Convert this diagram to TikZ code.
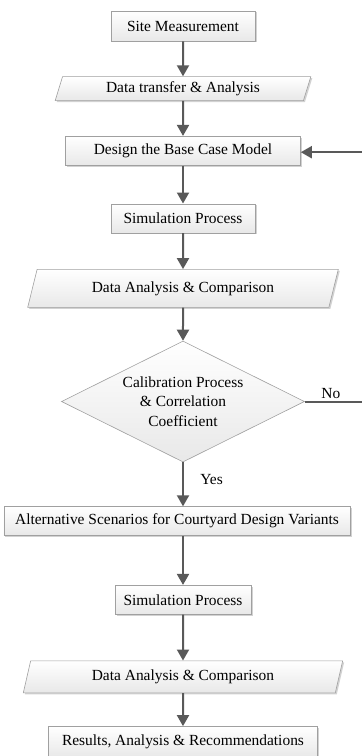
\documentclass[tikz,border=0pt]{standalone}
\usepackage{fontspec}
\setmainfont{Liberation Serif}
\usepackage{tikz}
\usetikzlibrary{shapes,arrows.meta,positioning,shadows}

\definecolor{linegray}{HTML}{595959}
\definecolor{edgegray}{HTML}{A0A0A0}

\begin{document}
\begin{tikzpicture}[x=1bp, y=-1bp, node distance=35bp,
  every node/.style={font=\fontsize{15.5}{19.5}\selectfont, align=center},
  procbox/.style={draw=edgegray, line width=0.6bp, rectangle, top color=white, bottom color=black!9,
    drop shadow={shadow xshift=1.5bp, shadow yshift=-1.5bp, fill=black!35}, minimum height=29bp, inner sep=0pt},
  iobox/.style={draw=edgegray, line width=0.6bp, trapezium, trapezium stretches=true, top color=white, bottom color=black!9,
    drop shadow={shadow xshift=1.5bp, shadow yshift=-1.5bp, fill=black!35}, inner sep=0pt},
  decbox/.style={draw=edgegray, line width=0.6bp, diamond, aspect=2, inner sep=0pt, top color=white, bottom color=black!9},
  flow/.style={-{Triangle[length=11bp,width=12bp]}, line width=2bp, draw=linegray}]
\useasboundingbox (0,0) rectangle (361,756);
% Site measurement
\node[procbox, minimum width=144bp, minimum height=30bp] (site) at (183,26) {Site Measurement};
% Data transfer
\node[iobox, minimum width=256bp, minimum height=24bp, trapezium left angle=71.6, trapezium right angle=108.4, below=35bp of site] (transfer) {Data transfer \& Analysis};
% Base case model
\node[procbox, minimum width=235bp, below=35bp of transfer] (design) {Design the Base Case Model};
% Simulation 1
\node[procbox, minimum width=144bp, below=38bp of design] (sim1) {Simulation Process};
% Analysis 1
\node[iobox, minimum width=311bp, minimum height=38bp, trapezium left angle=67.2, trapezium right angle=112.8, below=36bp of sim1] (ana1) {Data Analysis \& Comparison};
% Calibration check
\node[decbox, minimum width=243bp, minimum height=121bp, below=33bp of ana1] (calib) {Calibration Process\\ \& Correlation\\ Coefficient};
% Design variants
\node[procbox, minimum width=346bp, below=44bp of calib, xshift=-6bp] (alt) {Alternative Scenarios for Courtyard Design Variants};
% Simulation 2
\node[procbox, minimum width=136bp, below=49bp of alt, xshift=6bp] (sim2) {Simulation Process};
% Analysis 2
\node[iobox, minimum width=320bp, minimum height=32bp, trapezium left angle=72.6, trapezium right angle=107.4, below=46bp of sim2] (ana2) {Data Analysis \& Comparison};
% Results
\node[procbox, minimum width=269bp, minimum height=31bp, below=33bp of ana2] (res) {Results, Analysis \& Recommendations};
% Arrows
\draw[flow] (site) -- (transfer);
\draw[flow] (transfer) -- (design);
\draw[flow] (design) -- (sim1);
\draw[flow] (sim1) -- (ana1);
\draw[flow] (ana1) -- (calib);
\draw[flow] (calib) -- node[right=13bp, pos=0.38] {Yes} (calib |- alt.north);
\draw[flow] (alt.south -| sim2) -- (sim2);
\draw[flow] (sim2) -- (ana2);
\draw[flow] (ana2) -- (res);
% Feedback loop
\draw[flow] (calib.east) -- node[above, inner sep=2bp, pos=0.45] {No} ++(58bp,0) |- ([yshift=-1.5bp]design.east);
\end{tikzpicture}
\end{document}
